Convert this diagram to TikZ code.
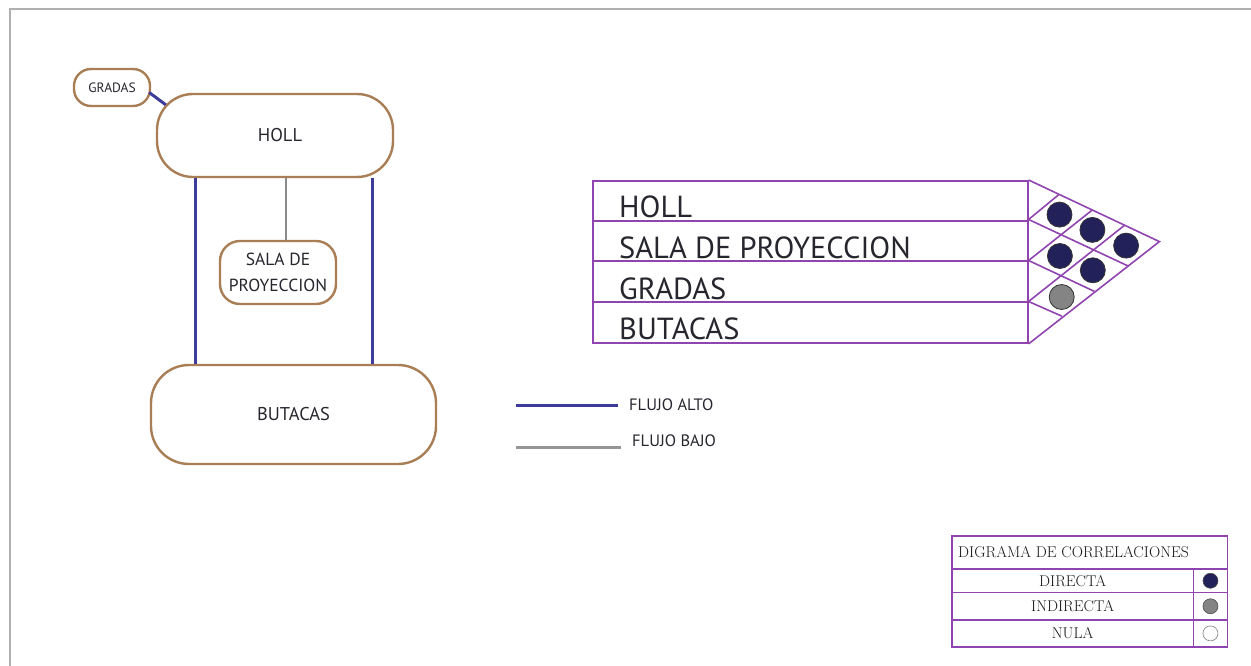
\documentclass[tikz,border=0pt]{standalone}
\usepackage{fontspec}
\setmainfont{PT Sans}
\newfontfamily\tablefont{Latin Modern Roman}
\definecolor{frameg}{HTML}{B0B0B0}
\definecolor{brownb}{HTML}{A97E55}
\definecolor{flowblue}{HTML}{3C3C9C}
\definecolor{flowgray}{HTML}{8A8A8A}
\definecolor{matpurple}{HTML}{9044B0}
\definecolor{navy}{HTML}{23215A}
\definecolor{dotgray}{HTML}{848484}
\definecolor{txt}{HTML}{26262E}
\tikzset{
  room/.style={draw=brownb, line width=2.4pt, fill=white, text=txt, align=center, inner sep=0pt},
  hiflow/.style={draw=flowblue, line width=3pt},
  loflow/.style={draw=flowgray, line width=1.6pt},
  matrow/.style={draw=matpurple, line width=1.6pt, minimum width=435pt, minimum height=40.75pt, inner sep=0pt, anchor=north west},
  matlab/.style={anchor=base west, text=txt, font=\fontsize{30.5}{32}\selectfont, inner sep=0pt},
  mline/.style={draw=matpurple, line width=1.6pt},
  dot/.style={circle, draw=black!80, line width=0.8pt, minimum size=25pt, inner sep=0pt},
  legtxt/.style={text=txt, font=\fontsize{16.5}{18}\selectfont, anchor=west, inner sep=0pt},
  tcell/.style={draw=matpurple, line width=1.5pt, anchor=north west, inner sep=0pt},
  ldot/.style={circle, draw=black!70, line width=0.6pt, minimum size=15pt, inner sep=0pt},
  ttxt/.style={text=black!90, font=\tablefont\fontsize{15.6}{17}\selectfont, inner sep=0pt}
}
\begin{document}
\begin{tikzpicture}[x=1pt,y=-1pt]
\useasboundingbox (0,0) rectangle (1251,666);
% outer frame
\draw[frameg, line width=2pt] (10,670) -- (10,9) -- (1255,9);

% rooms
\node[room, minimum width=236pt, minimum height=83pt, rounded corners=36pt, font=\fontsize{18.5}{20}\selectfont] (holl) at (275,135.5) {\hspace{10pt}HOLL};
\node[room, minimum width=76pt, minimum height=37pt, rounded corners=17pt, font=\fontsize{13.5}{14}\selectfont] (gradas) at (112,87.5) {GRADAS};
\node[room, minimum width=116pt, minimum height=63pt, rounded corners=20pt, font=\fontsize{17.5}{26}\selectfont] (sala) at (278,272.5) {SALA DE\\PROYECCION};
\node[room, minimum width=285pt, minimum height=99pt, rounded corners=38pt, font=\fontsize{18.5}{20}\selectfont] (butacas) at (293.5,414.5) {BUTACAS};

\coordinate (lx) at (195,0);
\coordinate (rx) at (372,0);
\coordinate (mx) at (286,0);
\draw[hiflow] (holl.south -| lx) -- (butacas.north -| lx);
\draw[hiflow] (holl.south -| rx) -- (butacas.north -| rx);
\draw[loflow] (holl.south -| mx) -- (sala.north -| mx);
\draw[hiflow] ([xshift=-2pt,yshift=-5pt]gradas.east) -- ([xshift=10pt,yshift=-12pt]holl.north west);

% flow legend
\coordinate (fa1) at (516,405);
\coordinate (fa2) at (618,405);
\coordinate (fb1) at (516,447);
\coordinate (fb2) at (621,447);
\draw[hiflow] (fa1) -- (fa2);
\draw[flowgray!90, line width=3pt] (fb1) -- (fb2);
\node[legtxt] (falto) at (629,405) {FLUJO ALTO};
\node[legtxt] (fbajo) at (632,441) {FLUJO BAJO};

% correlation matrix rows
\node[matrow] (r1) at (592,180) {};
\node[matrow] (r2) at (592,219.5) {};
\node[matrow] (r3) at (592,260.5) {};
\node[matrow] (r4) at (592,301.5) {};
\node[matlab] (t1) at (619,218) {HOLL};
\node[matlab] (t2) at (619,258.5) {SALA DE PROYECCION};
\node[matlab] (t3) at (619,299) {GRADAS};
\node[matlab] (t4) at (619,339) {BUTACAS};

% triangle grid
\coordinate (tip) at (1159.4,241.6);
\draw[mline] (r1.north east) -- (tip) -- (r4.south east);
\draw[mline] (r2.north east) -- (1127.7,265.8);
\draw[mline] (r3.north east) -- (1094.4,291.4);
\draw[mline] (r4.north east) -- (1061.9,316.2);
\draw[mline] (r2.north east) -- (1058.7,194.7);
\draw[mline] (r3.north east) -- (1092,210.2);
\draw[mline] (r4.north east) -- (1124.5,225.3);

% dots
\node[dot, fill=navy] (d12) at (1059.5,214.6) {};
\node[dot, fill=navy] (d13) at (1092.4,229.9) {};
\node[dot, fill=navy] (d14) at (1126.1,245.6) {};
\node[dot, fill=navy] (d23) at (1059.9,256) {};
\node[dot, fill=navy] (d24) at (1092.8,270.3) {};
\node[dot, fill=dotgray] (d34) at (1061.7,297) {};

% legend table
\node[tcell, minimum width=275.7pt, minimum height=33.3pt] (th) at (951,535) {};
\node[tcell, minimum width=241.7pt, minimum height=23.4pt] (c1) at (951,568.3) {};
\node[tcell, minimum width=34pt, minimum height=23.4pt] (k1) at (1192.7,568.3) {};
\node[tcell, minimum width=241.7pt, minimum height=27.6pt] (c2) at (951,591.7) {};
\node[tcell, minimum width=34pt, minimum height=27.6pt] (k2) at (1192.7,591.7) {};
\node[tcell, minimum width=241.7pt, minimum height=26.7pt] (c3) at (951,619.3) {};
\node[tcell, minimum width=34pt, minimum height=26.7pt] (k3) at (1192.7,619.3) {};
\node[ttxt, anchor=west] (tht) at (958,552.5) {DIGRAMA DE CORRELACIONES};
\node[ttxt] (c1t) at (c1.center) {DIRECTA};
\node[ttxt] (c2t) at (c2.center) {INDIRECTA};
\node[ttxt] (c3t) at (c3.center) {NULA};
\node[ldot, fill=navy] (k1d) at (k1.center) {};
\node[ldot, fill=dotgray] (k2d) at (k2.center) {};
\node[ldot, fill=white, draw=black!50] (k3d) at (k3.center) {};
\end{tikzpicture}
\end{document}
